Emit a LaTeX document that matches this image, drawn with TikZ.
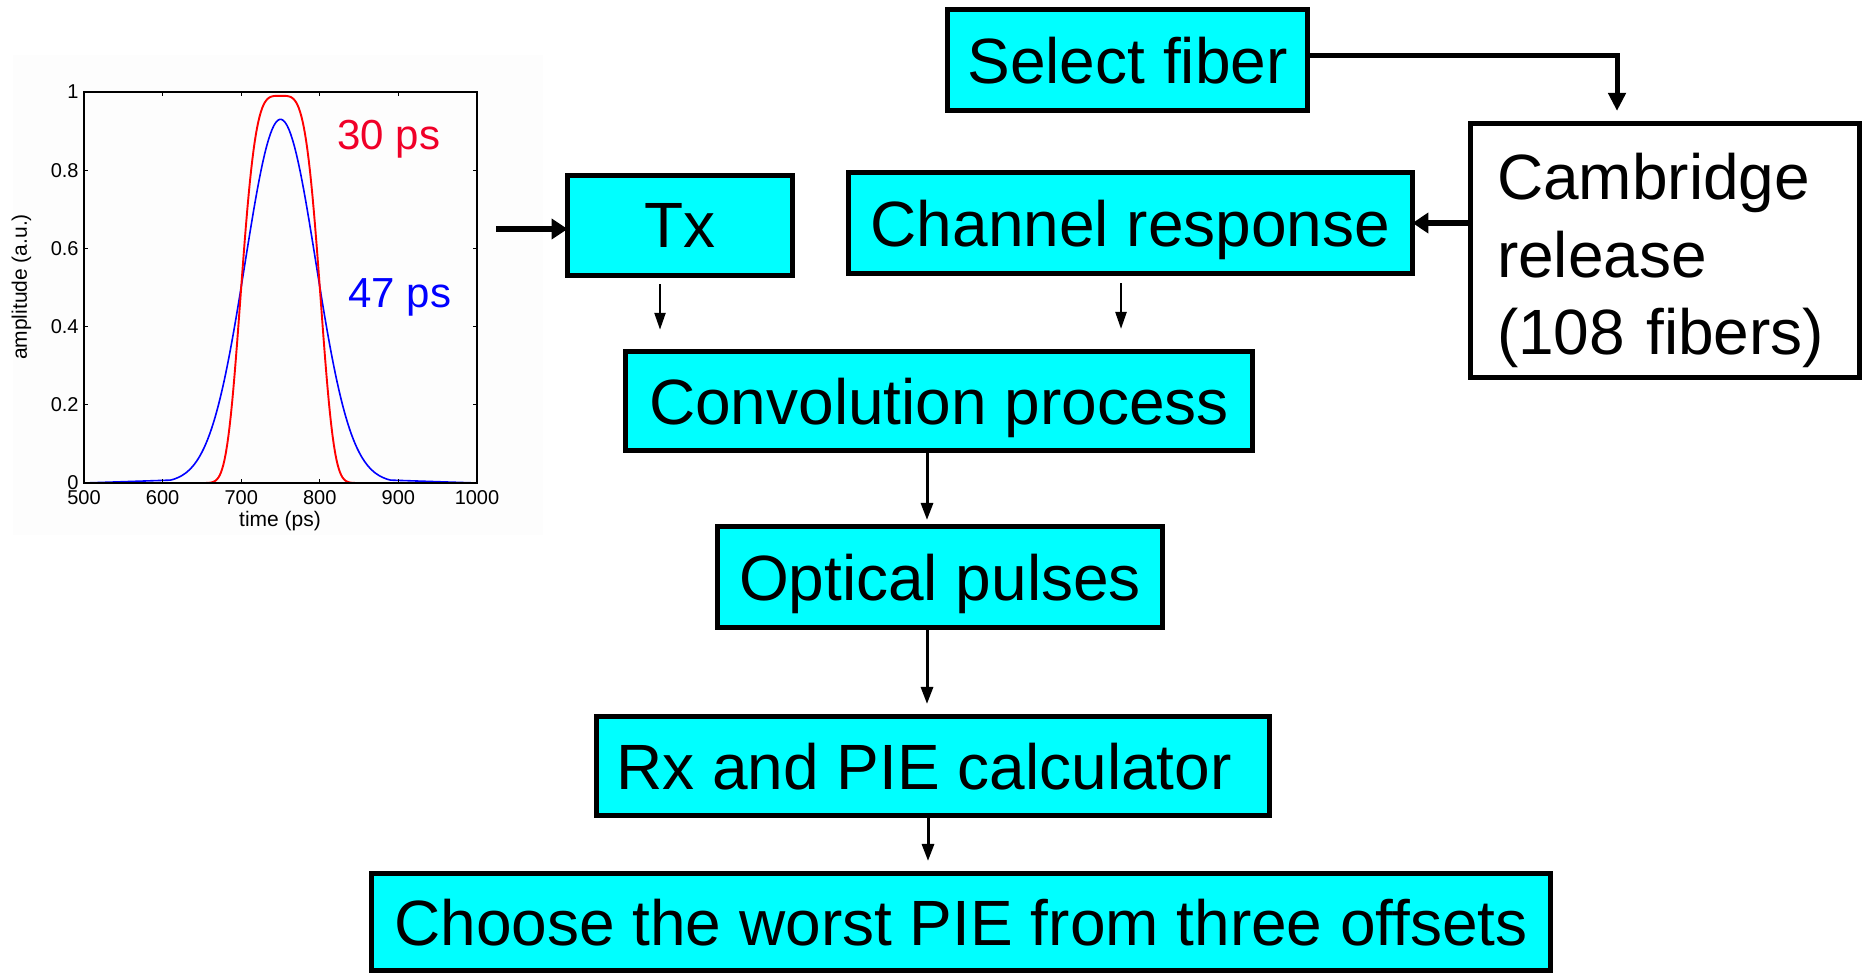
\documentclass[tikz,border=0pt]{standalone}
\usepackage{fontspec}
\setmainfont{Liberation Sans}
\usetikzlibrary{arrows.meta,calc}
\definecolor{boxcyan}{RGB}{0,255,255}
\definecolor{lblred}{RGB}{240,0,40}
\begin{document}
\begin{tikzpicture}[x=0.5pt,y=-0.5pt,
  box/.style={draw=black, line width=2.75pt, fill=boxcyan, inner sep=0pt,
    font=\fontsize{32}{38.75}\selectfont, text depth=0pt},
  cambox/.style={draw=black, line width=2.75pt, fill=white, inner ysep=0pt, inner xsep=0pt,
    font=\fontsize{32}{38.75}\selectfont, align=left, text width=168pt},
  thinarr/.style={line width=1.2pt, -{Triangle[length=8.5pt,width=5.5pt]}},
  midarr/.style={line width=1.5pt, -{Triangle[length=8.5pt,width=6pt]}},
  thickarr/.style={line width=3pt, -{Triangle[length=8pt,width=10pt]}},
  axisline/.style={line width=0.55pt, black},
  ticklbl/.style={font=\fontsize{10}{12}\selectfont, inner sep=0pt},
  axlbl/.style={font=\fontsize{10.5}{12}\selectfont, inner sep=0pt},
  pslbl/.style={font=\fontsize{21}{25}\selectfont, inner sep=0pt, anchor=base west},
]
\fill[white] (0,0) rectangle (1866,974);
\useasboundingbox (0,0) rectangle (1866,974);

% ---------- plot ----------
\fill[black!0.8] (13,55) rectangle (543,535);
\draw[blue, line width=0.8pt] (84,483) -- plot[domain=610:890, samples=120, variable=\t]
  ({84+(\t-500)*0.786},{483-391*0.93*exp(-((\t-750)/63.64)*((\t-750)/63.64))}) -- (477,483);
\draw[red, line width=0.95pt] (84,483) -- plot[domain=655:845, samples=120, variable=\t]
  ({84+(\t-500)*0.786},{483-391*0.99*exp(-(((\t-750)/55)*((\t-750)/55))*(((\t-750)/55)*((\t-750)/55)))}) -- (477,483);
\draw[axisline] (84,92) rectangle (477,483);
\foreach \t in {500,600,700,800,900,1000}{
  \pgfmathsetmacro\xx{84+(\t-500)*0.786}
  \draw[axisline] (\xx,483) -- (\xx,479);
  \draw[axisline] (\xx,92) -- (\xx,96);
  \node[ticklbl, anchor=north] (xt\t) at (\xx,490) {\t};
}
\foreach \v/\l in {0/0,0.2/0.2,0.4/0.4,0.6/0.6,0.8/0.8,1/1}{
  \pgfmathsetmacro\yy{483-391*\v}
  \draw[axisline] (84,\yy) -- (88,\yy);
  \draw[axisline] (477,\yy) -- (473,\yy);
  \node[ticklbl, anchor=east] (yt\l) at (79,\yy) {\l};
}
\node[axlbl] (xlab) at (280,521) {time (ps)};
\node[axlbl, rotate=90] (ylab) at (21.5,287) {amplitude (a.u.)};
\node[pslbl, text=lblred] (l30) at (337,149) {30 ps};
\node[pslbl, text=blue] (l47) at (348,307) {47 ps};

% ---------- boxes ----------
\node[box, minimum width=180pt, minimum height=50.5pt] (sel) at (1127.5,60) {Select fiber};
\node[cambox, minimum width=194.5pt, minimum height=127pt] (cam) at (1665,250.5)
  {\rule{0pt}{33.5pt}Cambridge\\release\\(108 fibers)};
\node[box, minimum width=112.5pt, minimum height=50pt] (tx) at (680,225.5) {Tx};
\node[box, minimum width=282pt, minimum height=50.5pt] (ch) at (1130.5,223) {Channel response};
\node[box, minimum width=313.5pt, minimum height=49.5pt] (conv) at (939,401) {Convolution process};
\node[box, minimum width=222.5pt, minimum height=50.5pt] (opt) at (940,577) {Optical pulses};
\node[box, minimum width=336.5pt, minimum height=49.5pt] (rx) at (933,766) {Rx and PIE calculator\kern9pt};
\node[box, minimum width=589.5pt, minimum height=48.5pt] (cho) at (961,922) {Choose the worst PIE from three offsets};

% ---------- connectors ----------
\coordinate (inTx) at (496,229);
\draw[thickarr, shorten >=-1.4pt] (inTx) -- (inTx -| tx.west);
\draw[thickarr, shorten >=-1.4pt] (cam.west |- ch.east) -- (ch.east);
\coordinate (selout) at ($(sel.east)+(0,-4)$);
\coordinate (corner) at (1617,56);
\draw[line width=2.5pt, -{Triangle[length=9pt,width=8.5pt]}, shorten >=4.9pt]
  (selout) -- (corner) -- (corner |- cam.north);
\coordinate (txd) at ($(tx.south)+(-20,0)$);
\draw[thinarr, shorten <=3pt, shorten >=9.5pt] (txd) -- (txd |- conv.north);
\coordinate (chd) at ($(ch.south)+(-9.5,0)$);
\draw[thinarr, shorten <=3.4pt, shorten >=9.9pt] (chd) -- (chd |- conv.north);
\coordinate (convd) at ($(conv.south)+(-12,0)$);
\draw[midarr, shorten >=1.9pt] (convd) -- (convd |- opt.north);
\coordinate (optd) at ($(opt.south)+(-13,0)$);
\draw[midarr, shorten >=4.9pt] (optd) -- (optd |- rx.north);
\coordinate (rxd) at ($(rx.south)+(-5,0)$);
\draw[midarr, shorten <=-1.6pt, shorten >=4.9pt] (rxd) -- (rxd |- cho.north);
\end{tikzpicture}
\end{document}
